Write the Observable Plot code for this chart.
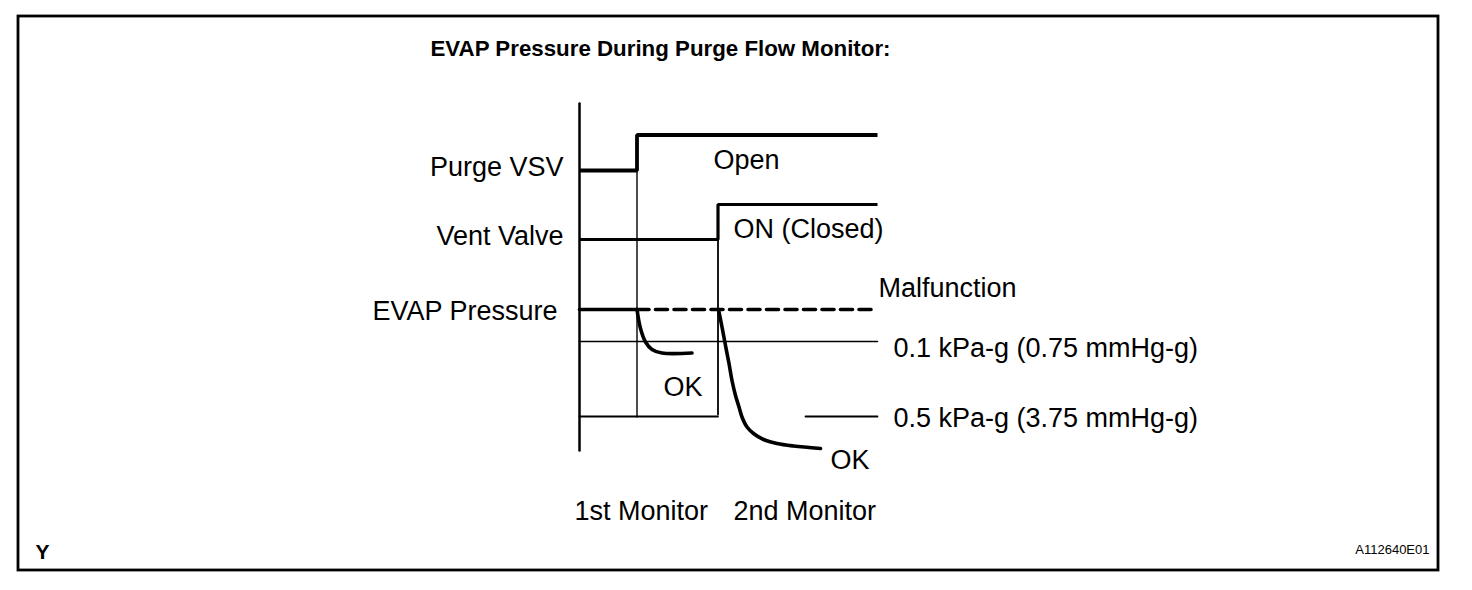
<!DOCTYPE html>
<html>
<head>
<meta charset="utf-8">
<script src="https://cdn.jsdelivr.net/npm/d3@7"></script>
<script src="https://cdn.jsdelivr.net/npm/@observablehq/plot@0.6"></script>
<style>
  html, body { margin: 0; padding: 0; background: #fff; }
  #chart svg { display: block; font-family: "Liberation Sans", Arial, sans-serif; }
</style>
</head>
<body>
<div id="chart"></div>
<script>
// ---- data (time in arbitrary units, level in arbitrary units) ----
const titleText = "EVAP Pressure During Purge Flow Monitor:";
const signalNames = ["Purge VSV", "Vent Valve", "EVAP Pressure"];
const stateLabels = ["Open", "ON (Closed)", "Malfunction"];
const thresholdLabels = ["0.1 kPa-g (0.75 mmHg-g)", "0.5 kPa-g (3.75 mmHg-g)"];
const monitorLabels = ["1st Monitor", "2nd Monitor"];
const okLabel = "OK";
const cornerLabel = "Y";
const figureCode = "A112640E01";

const tStart = 0, tMon1 = 5.75, tMon2 = 13.85, tEnd = 29.8;
const purgeLow = 28.0, purgeHigh = 31.55;
const ventLow = 21.1, ventHigh = 24.6;
const evapBase = 14.1;
const thr01 = 10.9, thr05 = 3.4;
const axisTop = 34.7, axisBottom = 0;

const curve1T = [5.75, 6.1, 6.6, 7.25, 8.25, 11.25];
const curve1V = [14.1, 12.2, 10.85, 10.1, 9.75, 9.75];
const curve2T = [13.9, 14.25, 14.6, 14.95, 15.25, 15.6, 15.95, 16.25, 16.75, 17.4, 18.4, 19.75, 21.4, 24.1];
const curve2V = [14.1, 12.35, 10.5, 8.7, 7.0, 5.5, 4.35, 3.35, 2.35, 1.7, 1.1, 0.7, 0.45, 0.2];

// ---- build ----
const pts = (ts, vs) => ts.map((t, i) => ({t, v: vs[i]}));
const purge = pts([tStart, tMon1, tMon1, tEnd], [purgeLow, purgeLow, purgeHigh, purgeHigh]);
const vent = pts([tStart, tMon2, tMon2, tEnd], [ventLow, ventLow, ventHigh, ventHigh]);
const evapSolid = pts([tStart, tMon1], [evapBase, evapBase]);
const evapDash = pts([tMon1, tEnd], [evapBase, evapBase]);
const c1 = pts(curve1T, curve1V);
const c2 = pts(curve2T, curve2V);

const font = 27;
const txt = (x, y, text, anchor, opts = {}) =>
  Plot.text([{x, y, text}], {x: "x", y: "y", text: "text", textAnchor: anchor, lineAnchor: "bottom",
    fontSize: font, fill: "#000", ...opts});

const W = 1472, H = 590;
const mL = 17.5, mT = 15.5, mR = 34.5, mB = 20.5;
const pxPerT = 10, pxPerV = 10, x0 = 579, y0 = 450;
const chart = Plot.plot({
  width: W, height: H,
  marginLeft: mL, marginTop: mT, marginRight: mR, marginBottom: mB,
  x: {domain: [(mL - x0) / pxPerT, (W - mR - x0) / pxPerT], axis: null},
  y: {domain: [-(H - mB - y0) / pxPerV, (y0 - mT) / pxPerV], axis: null},
  marks: [
    Plot.frame({stroke: "#000", strokeWidth: 2.8}),
    // axis
    Plot.line(pts([tStart, tStart], [axisTop, axisBottom]), {x: "t", y: "v", stroke: "#000", strokeWidth: 2.5}),
    // thresholds
    Plot.line(pts([tStart, tEnd], [thr01, thr01]), {x: "t", y: "v", stroke: "#000", strokeWidth: 1.6}),
    Plot.line(pts([tStart, tMon2], [thr05, thr05]), {x: "t", y: "v", stroke: "#000", strokeWidth: 1.8}),
    Plot.line(pts([22.6, tEnd], [thr05, thr05]), {x: "t", y: "v", stroke: "#000", strokeWidth: 1.8}),
    // monitor markers
    Plot.line(pts([tMon1, tMon1], [purgeLow, 3.35]), {x: "t", y: "v", stroke: "#000", strokeWidth: 1.4}),
    Plot.line(pts([tMon2, tMon2], [ventLow, 3.6]), {x: "t", y: "v", stroke: "#000", strokeWidth: 1.8}),
    // signals
    Plot.line(purge, {x: "t", y: "v", stroke: "#000", strokeWidth: 3.8, strokeLinejoin: "miter", strokeLinecap: "butt"}),
    Plot.line(vent, {x: "t", y: "v", stroke: "#000", strokeWidth: 3.2, strokeLinejoin: "miter", strokeLinecap: "butt"}),
    Plot.line(evapSolid, {x: "t", y: "v", stroke: "#000", strokeWidth: 3.6}),
    Plot.line(evapDash, {x: "t", y: "v", stroke: "#000", strokeWidth: 3.6, strokeDasharray: "12,6.5"}),
    Plot.line(c1, {x: "t", y: "v", stroke: "#000", strokeWidth: 3.6, curve: "catmull-rom"}),
    Plot.line(c2, {x: "t", y: "v", stroke: "#000", strokeWidth: 3.6, curve: "catmull-rom"}),
    // texts
    txt(8.1, 39.5, titleText, "middle", {fontSize: 22.3, fontWeight: "bold"}),
    txt(-1.6, 27.5, signalNames[0], "end"),
    txt(-1.6, 20.6, signalNames[1], "end"),
    txt(-2.2, 13.1, signalNames[2], "end"),
    txt(13.4, 28.2, stateLabels[0], "start"),
    txt(15.4, 21.3, stateLabels[1], "start"),
    txt(29.9, 15.4, stateLabels[2], "start"),
    txt(31.4, 9.4, thresholdLabels[0], "start"),
    txt(31.4, 2.4, thresholdLabels[1], "start"),
    txt(8.4, 5.5, okLabel, "start"),
    txt(25.1, -1.8, okLabel, "start"),
    txt(-0.5, -6.9, monitorLabels[0], "start"),
    txt(15.4, -6.9, monitorLabels[1], "start"),
    txt(-54.4, -10.8, cornerLabel, "start", {fontSize: 21, fontWeight: "bold"}),
    txt(85.0, -10.3, figureCode, "end", {fontSize: 13, letterSpacing: "0.5px"})
  ]
});
document.getElementById("chart").appendChild(chart);
</script>
</body>
</html>
